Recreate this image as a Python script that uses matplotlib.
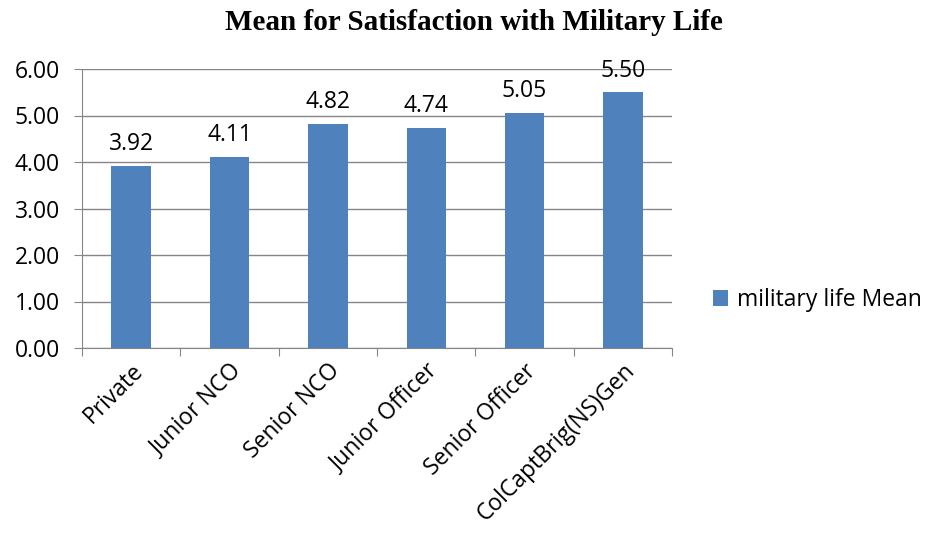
import matplotlib
matplotlib.use("Agg")
import matplotlib.pyplot as plt

categories = ["Private", "Junior NCO", "Senior NCO", "Junior Officer", "Senior Officer", "ColCaptBrig(NS)Gen"]
values = [3.92, 4.11, 4.82, 4.74, 5.05, 5.50]
yticks = [0, 1, 2, 3, 4, 5, 6]
series_name = "military life Mean"
title = "Mean for Satisfaction with Military Life"

bar_color = "#4F81BD"
grid_color = "#868686"
font = "Open Sans"
fs = 16.5

fig = plt.figure(figsize=(9.3, 5.33), dpi=100)
ax = fig.add_axes([82/930, 1-348/533, (672-82)/930, (348-69)/533])

x = list(range(len(categories)))
bars = ax.bar(x, values, width=0.4, color=bar_color, label=series_name, zorder=3)
ax.set_xlim(-0.5, len(categories)-0.5)
ax.set_ylim(0, 6)
ax.set_yticks(yticks)
ax.set_yticklabels([f"{v:.2f}" for v in yticks], fontsize=fs, family=font)
ax.yaxis.grid(True, color=grid_color, linewidth=1, zorder=0)
for s in ["top", "right"]:
    ax.spines[s].set_visible(False)
for s in ["left", "bottom"]:
    ax.spines[s].set_color(grid_color)
ax.tick_params(axis="y", length=6, color=grid_color, pad=10)
ax.set_xticks([i - 0.5 for i in range(len(categories)+1)], minor=False)
ax.set_xticklabels([])
ax.tick_params(axis="x", which="major", length=6, color=grid_color, direction="out")
ax.set_xticks(x, minor=True)
ax.set_xticklabels(categories, minor=True, rotation=45, ha="right", rotation_mode="anchor",
                   fontsize=fs, family=font)
ax.tick_params(axis="x", which="minor", length=0, pad=8)

for xi, v in zip(x, values):
    ax.annotate(f"{v:.2f}", (xi, v), xytext=(0, 7), textcoords="offset points",
                ha="center", va="bottom", fontsize=fs, family=font)

fig.text(474/930, 1-22/533, title, ha="center", va="center", fontsize=21,
         fontweight="bold", family="Liberation Serif")

fig.legend(handles=[bars], labels=[series_name], loc="center left",
           bbox_to_anchor=(713/930, 1-300/533), frameon=False, prop={"family": font, "size": fs},
           handlelength=0.65, handleheight=0.65, handletextpad=0.4, borderaxespad=0, borderpad=0)

fig.savefig("out.png", dpi=100)
